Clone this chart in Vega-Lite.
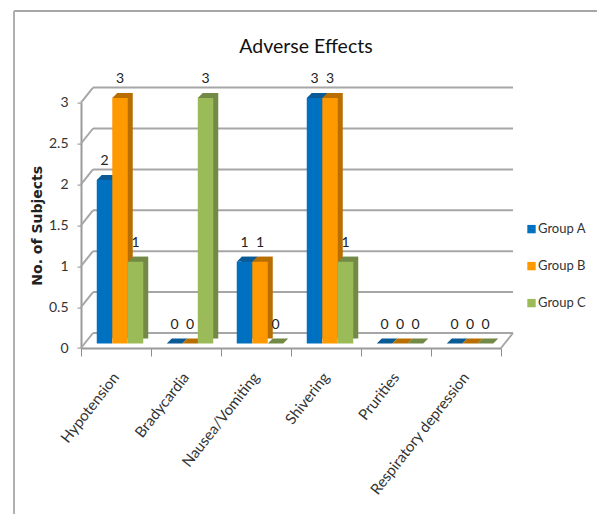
{
"$schema":"https://vega.github.io/schema/vega-lite/v6.json",
"width":420,"height":245.4,
"autosize":"none",
"padding":{"left":81,"top":102.6,"right":96,"bottom":166},
"background":"white",
"config":{"view":{"stroke":null},"font":"Lato"},
"title":{"text":"Adverse Effects","font":"Lato","fontSize":19.5,"fontWeight":"normal","color":"#111111","anchor":"middle","dx":15,"offset":-47},
"datasets":{
"rows":[
{"effect":"Hypotension","group":"Group A","n":2},{"effect":"Hypotension","group":"Group B","n":3},{"effect":"Hypotension","group":"Group C","n":1},
{"effect":"Bradycardia","group":"Group A","n":0},{"effect":"Bradycardia","group":"Group B","n":0},{"effect":"Bradycardia","group":"Group C","n":3},
{"effect":"Nausea/Vomiting","group":"Group A","n":1},{"effect":"Nausea/Vomiting","group":"Group B","n":1},{"effect":"Nausea/Vomiting","group":"Group C","n":0},
{"effect":"Shivering","group":"Group A","n":3},{"effect":"Shivering","group":"Group B","n":3},{"effect":"Shivering","group":"Group C","n":1},
{"effect":"Prurities","group":"Group A","n":0},{"effect":"Prurities","group":"Group B","n":0},{"effect":"Prurities","group":"Group C","n":0},
{"effect":"Respiratory depression","group":"Group A","n":0},{"effect":"Respiratory depression","group":"Group B","n":0},{"effect":"Respiratory depression","group":"Group C","n":0}
],
"grid":[{"v":0},{"v":0.5},{"v":1},{"v":1.5},{"v":2},{"v":2.5},{"v":3}]
},
"resolve":{"scale":{"x":"independent"}},
"layer":[
{"data":{"name":"grid"},
 "layer":[
 {"mark":{"type":"rule","color":"#a6a6a6","strokeWidth":2,"xOffset":12,"x2Offset":12,"yOffset":-15},
  "encoding":{"x":{"datum":0,"type":"quantitative","scale":{"domain":[0,6],"nice":false},
    "axis":{"orient":"bottom","values":[0,1,2,3,4,5,6],"labels":false,"title":null,"grid":false,"tickSize":8,"tickColor":"#8c8c8c","domainColor":"#9a9a9a","domainWidth":2,"tickWidth":1}},
   "x2":{"datum":6},
   "y":{"field":"v","type":"quantitative","scale":{"domain":[0,3],"nice":false},
    "axis":{"values":[0,0.5,1,1.5,2,2.5,3],"format":"~g","title":"No. of Subjects","titleFont":"DejaVu Sans","titleFontSize":14,"titleFontWeight":"bold","titleColor":"#222222","titlePadding":4,"labelFont":"Lato","labelFontSize":14,"labelColor":"#333333","labelPadding":9,"tickSize":4,"tickColor":"#8c8c8c","domainColor":"#9a9a9a","domainWidth":2,"grid":false}}}},
 {"mark":{"type":"rule","color":"#a6a6a6","strokeWidth":2,"x2Offset":12,"y2Offset":-15},
  "encoding":{"x":{"datum":0,"type":"quantitative"},"x2":{"datum":0},"y":{"field":"v","type":"quantitative"},"y2":{"field":"v"}}},
 {"transform":[{"filter":"datum.v === 0"}],
  "mark":{"type":"rule","color":"#a6a6a6","strokeWidth":2,"x2Offset":12,"y2Offset":-15},
  "encoding":{"x":{"datum":6,"type":"quantitative"},"x2":{"datum":6},"y":{"field":"v","type":"quantitative"},"y2":{"field":"v"}}},
 {"transform":[{"filter":"datum.v === 3"}],
  "mark":{"type":"rule","color":"#a6a6a6","strokeWidth":2,"xOffset":-67,"x2Offset":96,"yOffset":-91.6},
  "encoding":{"x":{"datum":0,"type":"quantitative"},"x2":{"datum":6},"y":{"field":"v","type":"quantitative"}}},
 {"transform":[{"filter":"datum.v === 3"}],
  "mark":{"type":"rule","color":"#b0b0b0","strokeWidth":2,"xOffset":-67,"yOffset":-91.6,"y2Offset":166},
  "encoding":{"x":{"datum":0,"type":"quantitative"},"y":{"field":"v","type":"quantitative"},"y2":{"datum":0}}}
 ]},
{"data":{"name":"rows"},
 "resolve":{"scale":{"x":"independent"}},
 "layer":[
 {"mark":{"type":"bar","yOffset":-9.5,"y2Offset":-9.5},
  "encoding":{
   "x":{"field":"effect","type":"nominal","sort":null,"scale":{"paddingInner":0.336,"paddingOuter":0.168,"range":[9,429]},"axis":null},
   "xOffset":{"field":"group","type":"nominal","sort":null,"scale":{"paddingInner":0,"paddingOuter":0,"range":[0,46.5]}},
   "y":{"field":"n","type":"quantitative"},
   "fill":{"field":"group","type":"nominal","legend":null,"scale":{"domain":["Group C","Group B","Group A"],"range":["#728a45","#b86e00","#0a5a96"]}}}},
 {"encoding":{
   "x":{"field":"effect","type":"nominal","sort":null,"scale":{"paddingInner":0.336,"paddingOuter":0.168,"range":[4,424]},
    "axis":{"orient":"bottom","title":null,"labelAngle":-52,"labelAlign":"right","labelBaseline":"middle","labelFont":"Lato","labelFontSize":15,"labelColor":"#333333","labelPadding":26,"labelOffset":-4,"ticks":false,"domain":false,"labelLimit":300}},
   "xOffset":{"field":"group","type":"nominal","sort":null},
   "y":{"field":"n","type":"quantitative"}},
  "layer":[
  {"mark":{"type":"point","filled":true,"strokeWidth":0,"opacity":1,"size":100,"shape":"M-1.55,0L1.55,0L2.55,-1L-0.55,-1Z","yOffset":-4.5},
   "encoding":{"fill":{"field":"group","type":"nominal","legend":null}}},
  {"mark":{"type":"bar","yOffset":-4.5,"y2Offset":-4.5},
   "encoding":{"color":{"field":"group","type":"nominal","scale":{"domain":["Group A","Group B","Group C"],"range":["#0070c0","#ff9900","#9bbb59"]},
    "legend":{"title":null,"orient":"none","legendX":444,"legendY":120,"symbolType":"square","symbolSize":70,"symbolStrokeWidth":0,"labelFont":"Lato","labelFontSize":13,"labelColor":"#333333","rowPadding":23,"labelOffset":0}}}},
  {"mark":{"type":"text","font":"Lato","fontSize":14,"color":"#222222","dy":-23.5},
   "encoding":{"text":{"field":"n","type":"quantitative"}}}
  ]}
 ]}
]
}
